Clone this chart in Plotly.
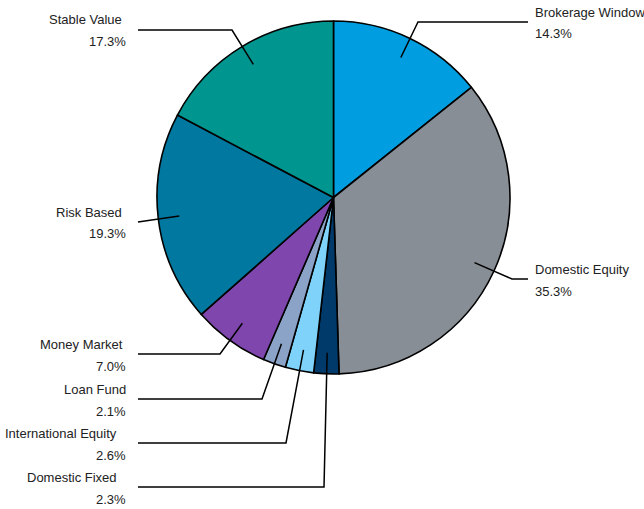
import math
import plotly.graph_objects as go

# ---- data ----
categories = ["Brokerage Window", "Domestic Equity", "Domestic Fixed", "International Equity",
              "Loan Fund", "Money Market", "Risk Based", "Stable Value"]
values = [14.3, 35.3, 2.3, 2.6, 2.1, 7.0, 19.3, 17.3]
colors = ["#009EE0", "#888E95", "#003A6B", "#7FD3FB", "#8CA3C8", "#7F46AE", "#0078A0", "#00968F"]

# ---- layout (pixels in the reference image) ----
W, H = 644, 509
CX, CY, R = 333.5, 197.5, 176.5
ANCHOR_FRAC = 0.88
FONT = "Liberation Sans, Arial, sans-serif"
FS = 13
label_layout = {
    "Brokerage Window": dict(side="r", elbow=(418, 22), end=528, tx=533),
    "Domestic Equity": dict(side="r", elbow=(512, 279), end=528, tx=533),
    "Domestic Fixed": dict(side="l", elbow=(324, 487), end=138, tx=119),
    "International Equity": dict(side="l", elbow=(286, 443), end=138, tx=119),
    "Loan Fund": dict(side="l", elbow=(262, 399), end=138, tx=128),
    "Money Market": dict(side="l", elbow=(220, 354), end=138, tx=125),
    "Risk Based": dict(side="l", elbow=(138, 222), end=138, tx=124),
    "Stable Value": dict(side="l", elbow=(232, 30), end=138, tx=124),
}

def px(x):
    return x / W

def py(y):
    return 1 - y / H

fig = go.Figure(go.Pie(
    labels=categories, values=values, sort=False, direction="clockwise", rotation=0,
    marker=dict(colors=colors, line=dict(color="black", width=1.6)),
    textinfo="none", hoverinfo="label+percent", showlegend=False,
    domain=dict(x=[px(CX - R), px(CX + R)], y=[py(CY + R), py(CY - R)]),
))

total = sum(values)
cum = 0.0
shapes, annotations = [], []
for name, v in zip(categories, values):
    mid = (cum + v / 2) / total * 2 * math.pi
    cum += v
    ax = CX + ANCHOR_FRAC * R * math.sin(mid)
    ay = CY - ANCHOR_FRAC * R * math.cos(mid)
    L = label_layout[name]
    ex, ey = L["elbow"]
    path = f"M {px(ax)},{py(ay)} L {px(ex)},{py(ey)} L {px(L['end'])},{py(ey)}"
    shapes.append(dict(type="path", xref="paper", yref="paper", path=path,
                       line=dict(color="black", width=1.5)))
    pct = f"{v:.1f}%"
    if L["side"] == "r":
        anchor, xn, xp = "left", L["tx"], L["tx"]
    else:
        anchor, xn, xp = "right", L["tx"], 128
    annotations.append(dict(xref="paper", yref="paper", x=px(xn), y=py(ey - 10), text=name,
                            showarrow=False, xanchor=anchor, yanchor="middle",
                            font=dict(family=FONT, size=FS, color="#222222")))
    annotations.append(dict(xref="paper", yref="paper", x=px(xp), y=py(ey + 12), text=pct,
                            showarrow=False, xanchor=anchor, yanchor="middle",
                            font=dict(family=FONT, size=FS, color="#222222")))

fig.update_layout(width=W, height=H, margin=dict(l=0, r=0, t=0, b=0),
                  paper_bgcolor="white", plot_bgcolor="white",
                  shapes=shapes, annotations=annotations)
fig.write_html("out.html", config={"displayModeBar": False},
               post_script="document.body.style.margin='0';document.body.style.overflow='hidden';")
